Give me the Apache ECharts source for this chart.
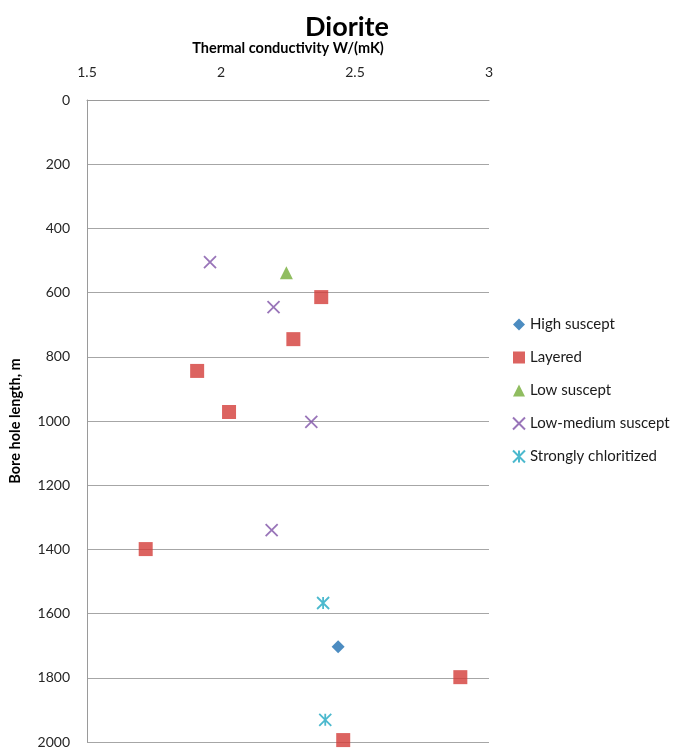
<!DOCTYPE html>
<html>
<head>
<meta charset="utf-8">
<script src="https://cdn.jsdelivr.net/npm/echarts@6/dist/echarts.min.js"></script>
<style>html,body{margin:0;padding:0;background:#fff}#c{width:688px;height:751px}</style>
</head>
<body>
<div id="c"></div>
<script>
// Data: [thermal conductivity W/(mK), bore hole length m]
var highSuscept = [[2.437, 1703]];
var layered = [[2.374, 614], [2.270, 745], [1.911, 844], [2.030, 972], [1.719, 1399], [2.893, 1798], [2.456, 1994]];
var lowSuscept = [[2.244, 538]];
var lowMediumSuscept = [[1.959, 505], [2.196, 645], [2.337, 1003], [2.189, 1340]];
var stronglyChloritized = [[2.381, 1567], [2.389, 1931]];
var seriesNames = ['High suscept', 'Layered', 'Low suscept', 'Low-medium suscept', 'Strongly chloritized'];
var xTicks = [1.5, 2, 2.5, 3];
var yTicks = [0, 200, 400, 600, 800, 1000, 1200, 1400, 1600, 1800, 2000];

var FONT = 'Lato, "Liberation Sans", sans-serif';
var crossPath = 'path://M0,0L10,10M10,0L0,10';
var starPath = 'path://M0,0L10,10M10,0L0,10M5,0L5,10';

var chart = echarts.init(document.getElementById('c'));
chart.setOption({
  animation: false,
  title: {
    text: 'Diorite', left: 342, top: 9, textAlign: 'center',
    textStyle: {fontFamily: FONT, fontSize: 27, fontWeight: 'bold', color: '#000'}
  },
  legend: {
    orient: 'vertical', left: 507, top: 312, itemGap: 18, itemWidth: 12, itemHeight: 12,
    textStyle: {fontFamily: FONT, fontSize: 15, color: '#1a1a1a'},
    data: seriesNames
  },
  grid: {left: 84, right: 199, top: 100, bottom: 9},
  xAxis: {
    type: 'value', position: 'top', min: xTicks[0], max: xTicks[xTicks.length - 1], interval: 0.5,
    name: 'Thermal conductivity W/(mK)', nameLocation: 'middle', nameGap: 44,
    nameTextStyle: {fontFamily: FONT, fontSize: 14.5, fontWeight: 'bold', color: '#000'},
    axisLine: {show: true, lineStyle: {color: '#9a9a9a'}},
    axisTick: {show: false},
    splitLine: {show: false},
    axisLabel: {margin: 21, fontFamily: FONT, fontSize: 14, color: '#262626', formatter: function (v) { return String(v); }}
  },
  yAxis: {
    type: 'value', inverse: true, min: yTicks[0], max: yTicks[yTicks.length - 1], interval: 200,
    name: 'Bore hole length, m', nameLocation: 'middle', nameGap: 64,
    nameTextStyle: {fontFamily: FONT, fontSize: 14.5, fontWeight: 'bold', color: '#000'},
    axisLine: {show: true, lineStyle: {color: '#9a9a9a'}},
    axisTick: {show: false},
    splitLine: {show: true, lineStyle: {color: '#a6a6a6'}},
    axisLabel: {margin: 17, fontFamily: FONT, fontSize: 14, color: '#262626', formatter: function (v) { return String(v); }}
  },
  series: [
    {name: seriesNames[0], type: 'scatter', data: highSuscept, symbol: 'diamond', symbolSize: 13,
      itemStyle: {color: '#1f6fb2'}},
    {name: seriesNames[1], type: 'scatter', data: layered, symbol: 'rect', symbolSize: 14,
      itemStyle: {color: '#d33c38'}},
    {name: seriesNames[2], type: 'scatter', data: lowSuscept, symbol: 'triangle', symbolSize: 13,
      itemStyle: {color: '#74ad38'}},
    {name: seriesNames[3], type: 'scatter', data: lowMediumSuscept, symbol: crossPath, symbolSize: 12,
      itemStyle: {color: 'rgba(0,0,0,0)', borderColor: '#8052a8', borderWidth: 1.8}},
    {name: seriesNames[4], type: 'scatter', data: stronglyChloritized, symbol: starPath, symbolSize: 12,
      itemStyle: {color: 'rgba(0,0,0,0)', borderColor: '#1fa8c2', borderWidth: 1.8}}
  ]
});
</script>
</body>
</html>
